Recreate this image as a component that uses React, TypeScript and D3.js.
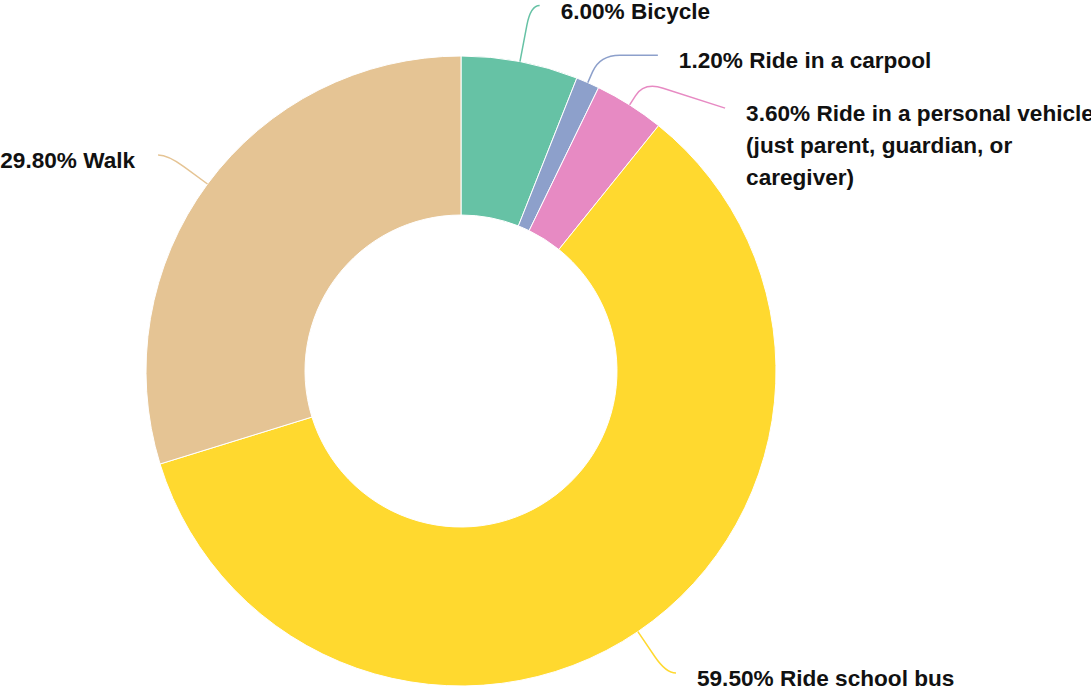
import React from "react";
import * as d3 from "d3";

const categories = [
  "Bicycle",
  "Ride in a carpool",
  "Ride in a personal vehicle (just parent, guardian, or caregiver)",
  "Ride school bus",
  "Walk",
];
const values = [6.0, 1.2, 3.6, 59.5, 29.8];
const colors = ["#66c2a5", "#8da0cb", "#e78ac3", "#ffd92f", "#e5c494"];
// label text lines (wrapped as in the reference)
const labelLines = [
  ["6.00% Bicycle"],
  ["1.20% Ride in a carpool"],
  ["3.60% Ride in a personal vehicle", "(just parent, guardian, or", "caregiver)"],
  ["59.50% Ride school bus"],
  ["29.80% Walk"],
];

// leader-line layout: radial extension beyond outer radius, then offset to label anchor
const leaderLayout = [
  { ext: 57, dx: 9, dy: 0 },
  { ext: 30, dx: 58, dy: 0 },
  { ext: 27, dx: 81, dy: 26 },
  { ext: 50, dx: 10, dy: 0 },
  { ext: 49, dx: -10, dy: 0 },
];

const W = 1091;
const H = 690;
const cx = 461;
const cy = 371;
const R = 315;
const r = 156;
const FONT = "'Liberation Sans', Arial, Helvetica, sans-serif";

function polar(rad: number, a: number): [number, number] {
  return [cx + rad * Math.sin(a), cy - rad * Math.cos(a)];
}

export default function App() {
  const data = categories.map((c, i) => ({ c, v: values[i], i }));
  const pie = d3.pie<any>().value((d: any) => d.v).sort(null);
  const arcs = pie(data);
  const arc = d3.arc<any>().innerRadius(r).outerRadius(R);

  return (
    <svg
      width={W}
      height={H}
      style={{ position: "absolute", left: 0, top: 0, overflow: "hidden" }}
    >
      <g transform={`translate(${cx},${cy})`}>
        {arcs.map((a, i) => (
          <path key={i} d={arc(a) as string} fill={colors[i]} stroke="#fff" strokeWidth={1} />
        ))}
      </g>
      {arcs.map((a, i) => {
        const mid = (a.startAngle + a.endAngle) / 2;
        const L = leaderLayout[i];
        const p0 = polar(R, mid);
        const el = polar(R + L.ext, mid);
        const end: [number, number] = [el[0] + L.dx, el[1] + L.dy];
        const len1 = Math.hypot(el[0] - p0[0], el[1] - p0[1]);
        const len2 = Math.hypot(end[0] - el[0], end[1] - el[1]);
        const d1 = Math.min(20, len1 * 0.6);
        const d2 = Math.min(20, len2);
        const a1: [number, number] = [
          el[0] + ((p0[0] - el[0]) / len1) * d1,
          el[1] + ((p0[1] - el[1]) / len1) * d1,
        ];
        const b1: [number, number] = [
          el[0] + ((end[0] - el[0]) / len2) * d2,
          el[1] + ((end[1] - el[1]) / len2) * d2,
        ];
        const path = `M${p0[0]},${p0[1]}L${a1[0]},${a1[1]}Q${el[0]},${el[1]} ${b1[0]},${b1[1]}L${end[0]},${end[1]}`;
        const right = end[0] >= el[0];
        const tx = right ? end[0] + 21 : end[0] - 23;
        const ty = end[1] + 13;
        return (
          <g key={"l" + i}>
            <path d={path} fill="none" stroke={colors[i]} strokeWidth={1.5} />
            <text
              x={tx}
              y={ty}
              textAnchor={right ? "start" : "end"}
              fontFamily={FONT}
              fontWeight="bold"
              fontSize={22.6}
              fill="#111"
            >
              {labelLines[i].map((t, k) => (
                <tspan key={k} x={tx} dy={k === 0 ? 0 : 32}>
                  {t}
                </tspan>
              ))}
            </text>
          </g>
        );
      })}
    </svg>
  );
}
